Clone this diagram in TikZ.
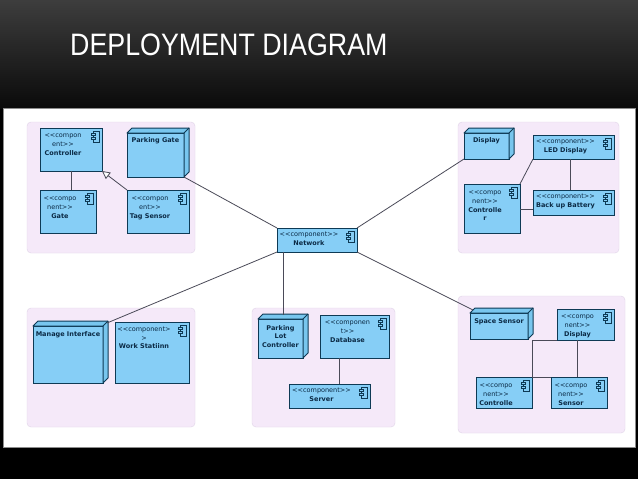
\documentclass[tikz,border=0pt]{standalone}
\usepackage{xcolor}
\usepackage{fontspec}
\usepackage{tikz}
\newfontfamily\diagfont{DejaVu Sans}
\newfontfamily\titlefont[FakeStretch=0.865]{Liberation Sans}
\definecolor{boxblue}{HTML}{86CEF6}
\definecolor{sideblue}{HTML}{78C6EE}
\definecolor{boxedge}{HTML}{0E3A55}
\definecolor{inktext}{HTML}{0B2A45}
\definecolor{groupfill}{HTML}{F5E9F9}
\definecolor{groupedge}{HTML}{E0D4E8}
\definecolor{linkgrey}{HTML}{4A4A58}
\usetikzlibrary{arrows.meta, positioning, calc}
\tikzset{
    groupbox/.style={draw=groupedge, fill=groupfill, rounded corners=4pt, inner sep=0pt, outer sep=0pt},
    compbox/.style={draw=boxedge, fill=boxblue, line width=1pt, inner sep=0pt, outer sep=0pt},
    comptext/.style={font=\diagfont\fontsize{6.5}{8.6}\selectfont, text=inktext, align=center, inner sep=0pt},
    link/.style={draw=linkgrey, line width=0.8pt},
    compicon/.pic={
        \draw[draw=boxedge, fill=boxblue, line width=0.7pt] (-9,3) rectangle (-3,14);
        \draw[draw=boxedge, fill=boxblue, line width=0.7pt] (-11,5.5) rectangle (-7,7.5);
        \draw[draw=boxedge, fill=boxblue, line width=0.7pt] (-11,9.5) rectangle (-7,11.5);
    }
}
\newcommand{\cubeside}[1]{
    \draw[draw=boxedge, fill=sideblue, line width=1pt, line join=round] (#1.north west) -- ++(5,-5) -- ($(#1.north east)+(5,-5)$) -- ($(#1.south east)+(5,-5)$) -- (#1.south east) -- (#1.north east) -- cycle;
    \draw[draw=boxedge, line width=1pt] (#1.north east) -- ++(5,-5);
}
\begin{document}
\begin{tikzpicture}[x=1pt, y=-1pt]
    \useasboundingbox (0,0) rectangle (638,479);
    \fill[black] (0,0) rectangle (638,479);
    \shade[top color=black!76, bottom color=black!96] (0,0) rectangle (638,108);
    \draw[draw=black!45, fill=white, line width=0.8pt] (3,108) rectangle (635,447);

    \node[text=white, font=\titlefont\fontsize{31}{31}\selectfont, anchor=base west, inner sep=0pt] (title) at (70,56) {DEPLOYMENT DIAGRAM};

    \node[groupbox, minimum width=168pt, minimum height=131pt] (gategroup) at (111,187.5) {};
    \node[groupbox, minimum width=161pt, minimum height=131pt] (displaygroup) at (538.5,187.5) {};
    \node[groupbox, minimum width=168pt, minimum height=119pt] (managegroup) at (111,367.5) {};
    \node[groupbox, minimum width=143pt, minimum height=119pt] (lotgroup) at (323.5,367.5) {};
    \node[groupbox, minimum width=167pt, minimum height=137pt] (spacegroup) at (541.5,364.5) {};

    \node[compbox, minimum width=62pt, minimum height=43pt] (controller) at (71,149.5) {};
    \node[compbox, minimum width=57pt, minimum height=44pt] (parkinggate) at (155.5,155) {};
    \node[compbox, minimum width=56pt, minimum height=43pt] (gate) at (68,211.5) {};
    \node[compbox, minimum width=62pt, minimum height=43pt] (tagsensor) at (158,211.5) {};
    \node[compbox, minimum width=45pt, minimum height=26pt] (display) at (486.5,146) {};
    \node[compbox, minimum width=81pt, minimum height=24pt] (leddisplay) at (573.5,147) {};
    \node[compbox, minimum width=81pt, minimum height=25pt] (backup) at (573.5,202.5) {};
    \node[compbox, minimum width=56pt, minimum height=49pt] (lotctrl) at (492,208.5) {};
    \node[compbox, minimum width=80pt, minimum height=24pt] (network) at (317,240) {};
    \node[compbox, minimum width=70pt, minimum height=57pt] (manage) at (68,354.5) {};
    \node[compbox, minimum width=74pt, minimum height=61pt] (workstation) at (152,352.5) {};
    \node[compbox, minimum width=45pt, minimum height=39pt] (parkinglot) at (280.5,338.5) {};
    \node[compbox, minimum width=69pt, minimum height=43pt] (database) at (354.5,336.5) {};
    \node[compbox, minimum width=81pt, minimum height=24pt] (server) at (329.5,396) {};
    \node[compbox, minimum width=58pt, minimum height=26pt] (spacesensor) at (499,326) {};
    \node[compbox, minimum width=57pt, minimum height=31pt] (sensordisplay) at (585.5,324.5) {};
    \node[compbox, minimum width=56pt, minimum height=31pt] (sensorctrl) at (504,392.5) {};
    \node[compbox, minimum width=56pt, minimum height=31pt] (sensor) at (579,392.5) {};

    \cubeside{parkinggate}
    \cubeside{display}
    \cubeside{manage}
    \cubeside{parkinglot}
    \cubeside{spacesensor}

    \foreach \boxname in {controller, gate, tagsensor, leddisplay, backup, lotctrl, network, workstation, database, server, sensordisplay, sensorctrl, sensor}
        \pic at (\boxname.north east) {compicon};

    \node[comptext, below=6pt of controller.north, xshift=-8pt] (controllertext) {<<compon\\ent>>\\\textbf{Controller}};
    \node[comptext, below=4pt of parkinggate.north] (parkinggatetext) {\textbf{Parking Gate}};
    \node[comptext, below=7pt of gate.north, xshift=-8pt] (gatetext) {<<compo\\nent>>\\\textbf{Gate}};
    \node[comptext, below=7pt of tagsensor.north, xshift=-8pt] (tagsensortext) {<<compon\\ent>>\\\textbf{Tag Sensor}};
    \node[comptext, below=4pt of display.north] (displaytext) {\textbf{Display}};
    \node[comptext, below=4pt of leddisplay.north, xshift=-8pt] (leddisplaytext) {<<component>>\\\textbf{LED Display}};
    \node[comptext, below=4pt of backup.north, xshift=-8pt] (backuptext) {<<component>>\\\textbf{Back up Battery}};
    \node[comptext, below=7pt of lotctrl.north, xshift=-7pt] (lotctrltext) {<<compo\\nent>>\\\textbf{Controlle}\\\textbf{r}};
    \node[comptext, below=4pt of network.north, xshift=-8pt] (networktext) {<<component>>\\\textbf{Network}};
    \node[comptext, below=5pt of manage.north] (managetext) {\textbf{Manage Interface}};
    \node[comptext, below=5pt of workstation.north, xshift=-8pt] (workstationtext) {<<component>\\>\\\textbf{Work Statiinn}};
    \node[comptext, below=6pt of parkinglot.north] (parkinglottext) {\textbf{Parking}\\\textbf{Lot}\\\textbf{Controller}};
    \node[comptext, below=6pt of database.north, xshift=-7pt] (databasetext) {<<componen\\t>>\\\textbf{Database}};
    \node[comptext, below=4pt of server.north, xshift=-8pt] (servertext) {<<component>>\\\textbf{Server}};
    \node[comptext, below=5pt of spacesensor.north] (spacesensortext) {\textbf{Space Sensor}};
    \node[comptext, below=6pt of sensordisplay.north, xshift=-8pt] (sensordisplaytext) {<<compo\\nent>>\\\textbf{Display}};
    \node[comptext, below=7pt of sensorctrl.north, xshift=-8pt] (sensorctrltext) {<<compo\\nent>>\\\textbf{Controlle}};
    \node[comptext, below=7pt of sensor.north, xshift=-8pt] (sensortext) {<<compo\\nent>>\\\textbf{Sensor}};

    \coordinate (managecorner) at ($(manage.north east)+(4,-3)$);
    \coordinate (lotcorner) at ($(parkinglot.north)+(2.5,-4)$);
    \coordinate (spacecorner) at ($(spacesensor.north west)+(3,-3)$);

    \draw[link] (controller.south) -- (controller.south |- gate.north);
    \draw[link, -{Triangle[open, fill=white, length=8pt, width=8pt]}] (tagsensor.north west) -- (controller.south east);
    \draw[link] (parkinggate.south east) -- (network.north west);
    \draw[link] (network.north east) -- (display.south west);
    \draw[link] (managecorner) -- (network.south west);
    \draw[link] (lotcorner) -- (lotcorner |- network.south);
    \draw[link] (network.south east) -- (spacecorner);
    \draw[link] ($(leddisplay.south)+(-3.5pt,0)$) -- ($(backup.north)+(-3.5pt,0)$);
    \draw[link] (leddisplay.south west) -- (lotctrl.north east);
    \draw[link] ($(lotctrl.east)+(0,0.5)$) -- ($(backup.west)+(0,6.5)$);
    \draw[link] ($(database.south)+(-15.5pt,0)$) -- ($(server.north)+(9.5pt,0)$);
    \draw[link] (sensordisplay.south west) -- (sensorctrl.north east |- sensordisplay.south) -- (sensorctrl.north east);
    \draw[link] (sensorctrl.north east) -- (sensor.north west);
    \draw[link] ($(sensordisplay.south)+(-8.5pt,0)$) -- ($(sensor.north)+(-2pt,0)$);
\end{tikzpicture}
\end{document}
